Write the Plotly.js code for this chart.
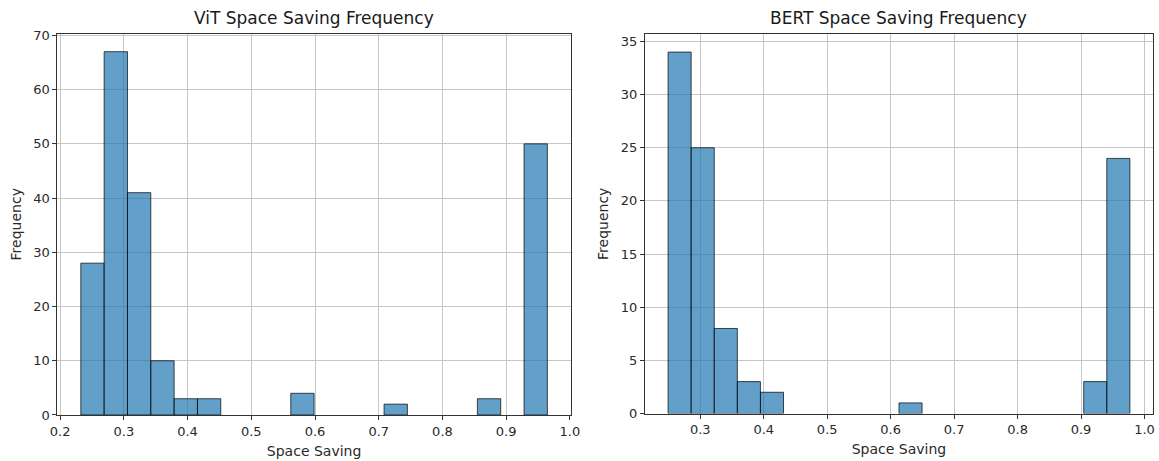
<!DOCTYPE html>
<html>
<head>
<meta charset="utf-8">
<script src="https://cdn.plot.ly/plotly-3.0.1.min.js"></script>
<style>html,body{margin:0;padding:0;background:#fff;}#chart{width:1159px;height:461px;}</style>
</head>
<body>
<div id="chart"></div>
<script>
// ---- Data ----
const vitCounts = [28, 67, 41, 10, 3, 3, 0, 0, 0, 4, 0, 0, 0, 2, 0, 0, 0, 3, 0, 50];
const vitBinMin = 0.2325;
const vitBinMax = 0.9646;

const bertCounts = [34, 25, 8, 3, 2, 0, 0, 0, 0, 0, 1, 0, 0, 0, 0, 0, 0, 0, 3, 24];
const bertBinMin = 0.2492;
const bertBinMax = 0.9770;

const xTickVals = [0.2, 0.3, 0.4, 0.5, 0.6, 0.7, 0.8, 0.9, 1.0];
const xTickText = ['0.2', '0.3', '0.4', '0.5', '0.6', '0.7', '0.8', '0.9', '1.0'];
const vitYTicks = [0, 10, 20, 30, 40, 50, 60, 70];
const bertYTicks = [0, 5, 10, 15, 20, 25, 30, 35];

const titles = ['ViT Space Saving Frequency', 'BERT Space Saving Frequency'];
const xLabel = 'Space Saving';
const yLabel = 'Frequency';

// ---- Build histogram bars ----
function bins(counts, lo, hi) {
  const n = counts.length, w = (hi - lo) / n;
  const centers = counts.map((_, i) => lo + w * (i + 0.5));
  return { centers, w };
}
const vb = bins(vitCounts, vitBinMin, vitBinMax);
const bb = bins(bertCounts, bertBinMin, bertBinMax);

function barStyle(counts) {
  return {
    color: 'rgba(31,119,180,0.7)',
    line: { color: 'rgba(0,0,0,0.7)', width: counts.map(c => (c > 0 ? 1 : 0)) }
  };
}

const traces = [
  { type: 'bar', x: vb.centers, y: vitCounts, width: vb.w, marker: barStyle(vitCounts), xaxis: 'x', yaxis: 'y', hoverinfo: 'x+y' },
  { type: 'bar', x: bb.centers, y: bertCounts, width: bb.w, marker: barStyle(bertCounts), xaxis: 'x2', yaxis: 'y2', hoverinfo: 'x+y' }
];

const fam = 'DejaVu Sans, sans-serif';
const textColor = '#2a2a2a';
const gridColor = '#c6c6c6';

function xAxis(domain, range, anchor) {
  return {
    domain, range, anchor,
    tickvals: xTickVals, ticktext: xTickText,
    ticks: 'outside', ticklen: 4, tickwidth: 1, tickcolor: '#333',
    showline: true, mirror: true, linecolor: '#333', linewidth: 1,
    showgrid: true, gridcolor: gridColor, gridwidth: 1,
    zeroline: false,
    tickfont: { family: fam, size: 13, color: textColor },
    title: { text: xLabel, font: { family: fam, size: 14, color: textColor }, standoff: 8 }
  };
}
function yAxis(domain, range, anchor, ticks) {
  return {
    domain, range, anchor,
    tickvals: ticks,
    ticks: 'outside', ticklen: 4, tickwidth: 1, tickcolor: '#333',
    showline: true, mirror: true, linecolor: '#333', linewidth: 1,
    showgrid: true, gridcolor: gridColor, gridwidth: 1,
    zeroline: false,
    tickfont: { family: fam, size: 13, color: textColor },
    title: { text: yLabel, font: { family: fam, size: 14, color: textColor }, standoff: 8 }
  };
}

const vitMax = Math.max(...vitCounts), bertMax = Math.max(...bertCounts);
const vitSpan = vitBinMax - vitBinMin, bertSpan = bertBinMax - bertBinMin;

const layout = {
  width: 1159, height: 461,
  margin: { l: 0, r: 0, t: 0, b: 0 },
  paper_bgcolor: '#fff', plot_bgcolor: '#fff',
  showlegend: false,
  bargap: 0,
  font: { family: fam, size: 13, color: textColor },
  xaxis: xAxis([0.0496, 0.4924], [vitBinMin - 0.05 * vitSpan, vitBinMax + 0.05 * vitSpan], 'y'),
  yaxis: yAxis([0.0998, 0.9273], [0, vitMax * 1.05], 'x', vitYTicks),
  xaxis2: xAxis([0.5565, 0.9948], [bertBinMin - 0.05 * bertSpan, bertBinMax + 0.05 * bertSpan], 'y2'),
  yaxis2: yAxis([0.1030, 0.9262], [0, bertMax * 1.05], 'x2', bertYTicks),
  annotations: [
    { text: titles[0], xref: 'paper', yref: 'paper', x: (0.0496 + 0.4924) / 2, y: 1 - 18 / 461, xanchor: 'center', yanchor: 'middle', showarrow: false, font: { family: fam, size: 17, color: '#1a1a1a' } },
    { text: titles[1], xref: 'paper', yref: 'paper', x: (0.5565 + 0.9948) / 2, y: 1 - 18 / 461, xanchor: 'center', yanchor: 'middle', showarrow: false, font: { family: fam, size: 17, color: '#1a1a1a' } }
  ]
};

Plotly.newPlot('chart', traces, layout, { displayModeBar: false, staticPlot: true });
</script>
</body>
</html>
